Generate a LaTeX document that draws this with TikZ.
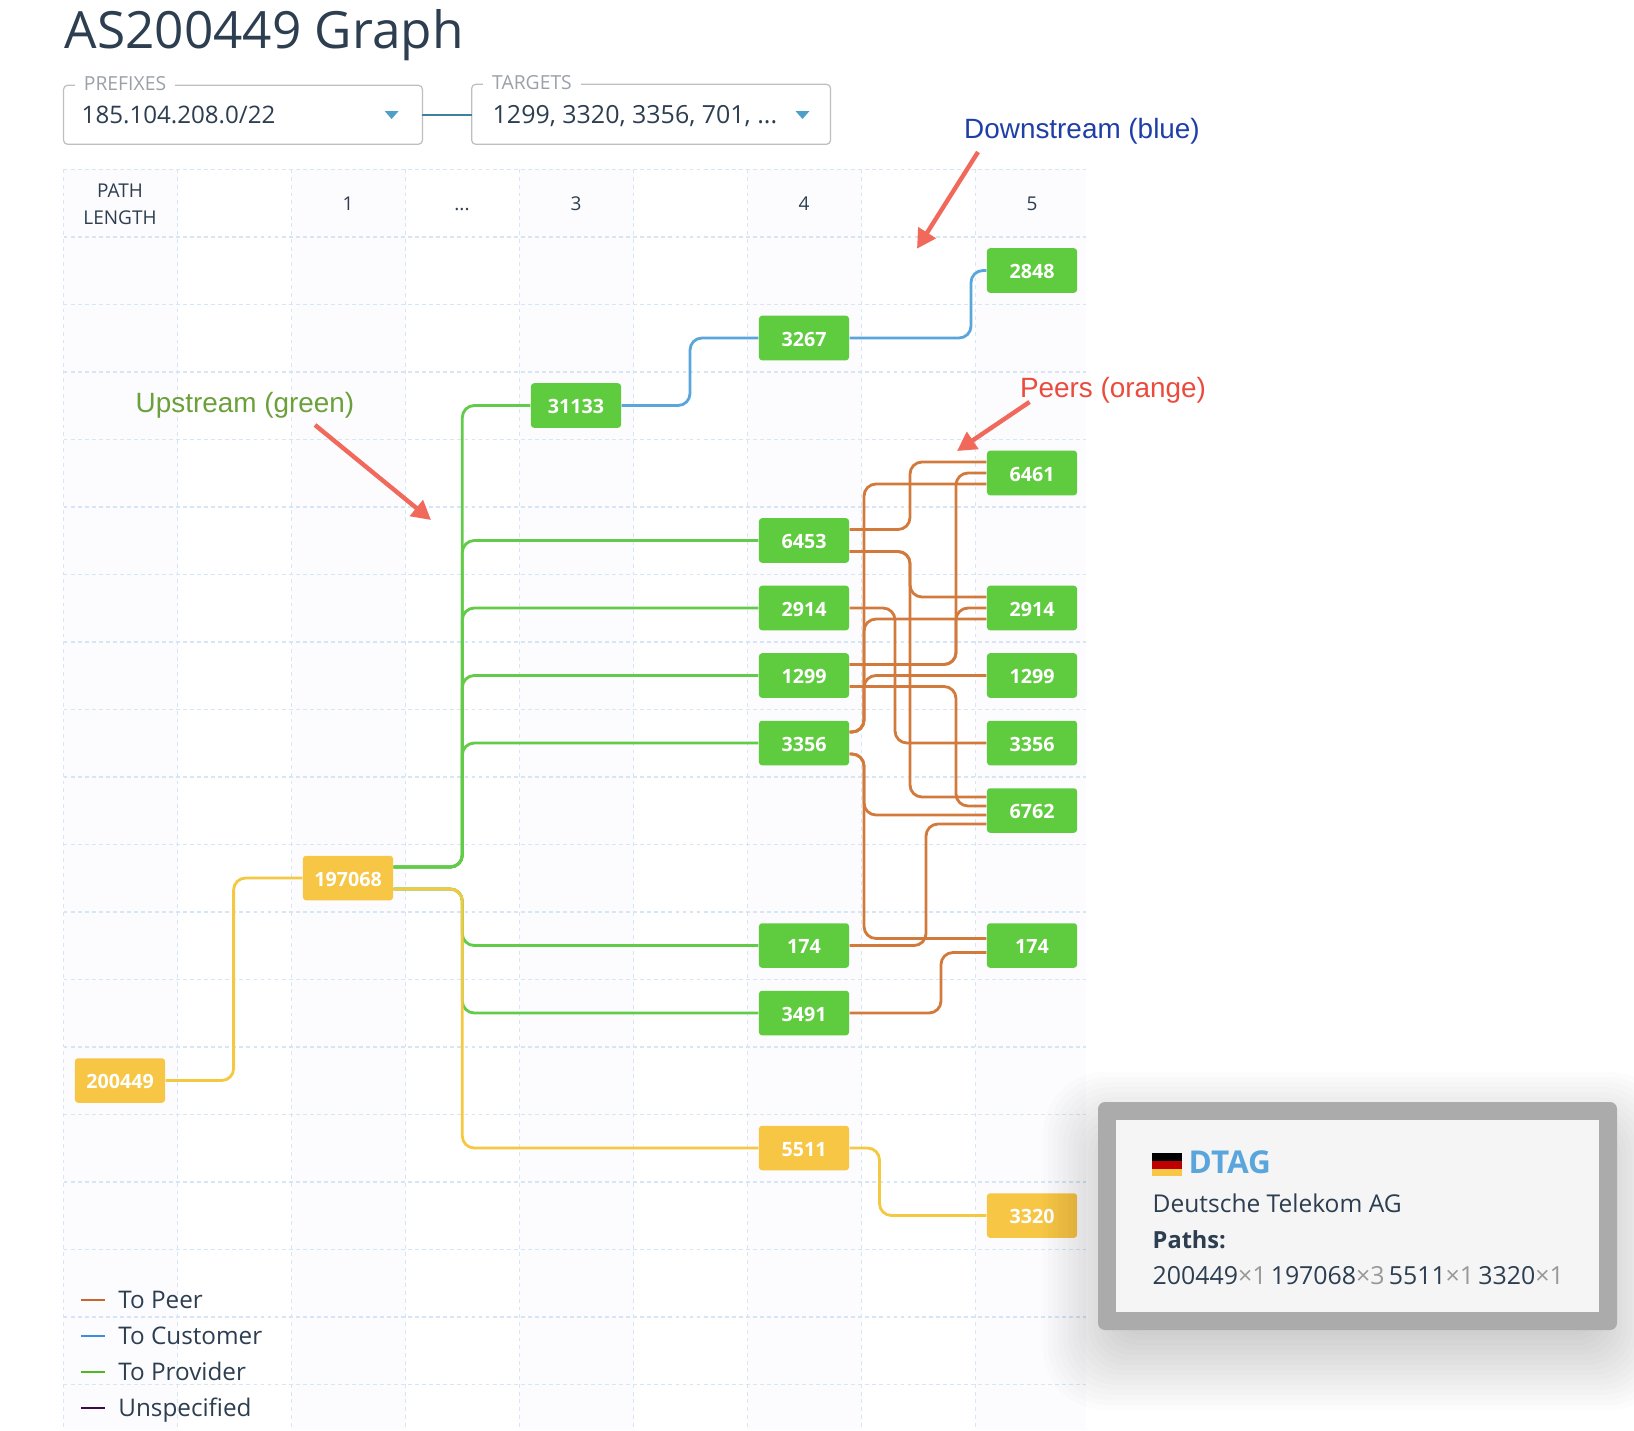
\documentclass[tikz,border=0pt]{standalone}
\usepackage{fontspec}
\setmainfont{Open Sans}
\newfontfamily\notefont{Liberation Sans}
\usetikzlibrary{calc,arrows.meta}
\definecolor{nodegreen}{HTML}{5FCB3F}
\definecolor{nodeyellow}{HTML}{F6C644}
\definecolor{linegreen}{HTML}{62CB48}
\definecolor{lineyellow}{HTML}{F5C842}
\definecolor{lineorange}{HTML}{D27A3C}
\definecolor{lineblue}{HTML}{5AA6DC}
\definecolor{inktext}{HTML}{2C3E50}
\definecolor{gridblue}{HTML}{D6E6F4}
\definecolor{coltint}{HTML}{FCFCFF}
\definecolor{salmon}{HTML}{F0695A}
\definecolor{dropblue}{HTML}{4FA0C8}
\definecolor{dropgray}{HTML}{9BA1A9}
\definecolor{notedown}{HTML}{1F3FA8}
\definecolor{noteup}{HTML}{6BA03A}
\definecolor{notepeer}{HTML}{EA4B3C}
\tikzset{
    asnode/.style={minimum width=0.9cm,minimum height=0.445cm,inner sep=0pt,rounded corners=0.03cm,text=white,text height=4.6pt,text depth=0pt,font=\fontsize{5.6}{6}\selectfont\bfseries},
    asgreen/.style={asnode,fill=nodegreen},
    asyellow/.style={asnode,fill=nodeyellow},
    route/.style={line width=0.8pt,rounded corners=0.12cm},
    peer/.style={route,lineorange},
    customer/.style={route,lineblue},
    provider/.style={route,linegreen},
    unknown/.style={route,lineyellow},
    head/.style={text=inktext,inner sep=0pt,anchor=base,font=\fontsize{5.4}{6}\selectfont},
    legend/.style={text=inktext,inner sep=0pt,anchor=base west,font=\fontsize{6.9}{8}\selectfont},
    note/.style={inner sep=0pt,font=\fontsize{7.93}{10}\selectfont\notefont},
    pointer/.style={salmon,line width=1.25pt,-{Triangle[length=0.19cm,width=0.2cm]}},
    dropbox/.style={draw=black!25,line width=0.35pt,rounded corners=0.04cm},
    droplabel/.style={fill=white,inner sep=0pt,text=dropgray,font=\fontsize{5.5}{6}\selectfont},
    dropvalue/.style={text=inktext,inner sep=0pt,anchor=base west},
    tiptext/.style={anchor=base west,inner sep=0pt,text=inktext},
}
\newcommand{\route}[6]{
    \coordinate (s) at ($(#2.east)+(0,#3)$);
    \coordinate (t) at ($(#5.west)+(0,#6)$);
    \draw[#1] (s) -- (s -| #4) -- (t -| #4) -- (t);
}
\begin{document}
\begin{tikzpicture}[x=0.01cm,y=-0.01cm]
        \useasboundingbox (0,0) rectangle (1634,1430);
        \fill[white] (0,0) rectangle (1634,1430);

        % grid
        \foreach \i in {63.6,291.6,519.6,747.6}
        \fill[coltint] (\i,169.3) rectangle ({\i+114},1430);
        \fill[coltint] (975.6,169.3) rectangle (1086,1430);
        \foreach \i in {0,...,8}
        \draw[gridblue,line width=0.3pt,dash pattern=on 1.1pt off 1.1pt] ({63.6+114*\i},169.3) -- ({63.6+114*\i},1430);
        \foreach \i in {0,...,18}
        \draw[gridblue,line width=0.42pt,dash pattern=on 1.1pt off 0.9pt] (63.6,{169.3+67.5*\i}) -- (1086,{169.3+67.5*\i});

        % title and selectors
        \node[text=inktext,inner sep=0pt,anchor=base west,font=\fontsize{14.6}{17}\selectfont] (title) at (64,48) {AS200449 Graph};
        \draw[dropbox] (63.6,85.3) rectangle (422.4,144.3);
        \draw[dropbox] (471.7,84.3) rectangle (830.5,144.3);
        \node[droplabel,minimum width=1cm] (prefixes) at (125,84) {PREFIXES};
        \node[droplabel,minimum width=0.97cm] (targets) at (532,83) {TARGETS};
        \node[dropvalue,font=\fontsize{6.86}{8}\selectfont] (prefixval) at (81,123.5) {185.104.208.0/22};
        \node[dropvalue,font=\fontsize{7.1}{8}\selectfont] (targetval) at (492,123.5) {1299, 3320, 3356, 701, ...};
        \fill[dropblue] (384.6,111) -- (398.6,111) -- (391.6,119) -- cycle;
        \fill[dropblue] (795.5,111) -- (809.5,111) -- (802.5,119) -- cycle;
        \draw[line width=0.5pt,color=dropblue!80!black] (422.4,115) -- (471.7,115);

        % column heads
        \node[head] (hpath) at (120,197) {PATH};
        \node[head] (hlength) at (120,224) {LENGTH};
        \foreach \i/\lab in {348/1,576/3,804/4,1032/5}
        \node[head] (hcol\lab) at (\i,210.5) {\lab};
        \node[head] (hdots) at (462,210.5) {...};

        % channels of the routes
        \foreach \n/\i in {chA/233.6,chB/462.3,chC/690,chD/971,chE/879.5,chF/864,chG/895,chH/910,chI/926,chJ/941,chK/956}
        \coordinate (\n) at (\i,0);

        \node[asyellow] (c0n200449) at (120,1080.5) {200449};
        \node[asyellow] (c1n197068) at (348,878) {197068};
        \node[asgreen] (c3n31133) at (576,405.5) {31133};
        \node[asgreen] (c4n3267) at (804,338) {3267};
        \foreach \n/\r in {6453/4,2914/5,1299/6,3356/7,174/10,3491/11}
        \node[asgreen] (c4n\n) at (804,{270.5+67.5*\r}) {\n};
        \node[asyellow] (c4n5511) at (804,1148) {5511};
        \foreach \n/\r in {2848/0,6461/3,2914/5,1299/6,3356/7,6762/8,174/10}
        \node[asgreen] (c5n\n) at (1032,{270.5+67.5*\r}) {\n};
        \node[asyellow] (c5n3320) at (1032,1215.5) {3320};

        % routes
        \foreach \pa/\da/\ch/\pb/\db in {c1n197068/-11/chB/c3n31133/0,c1n197068/-11/chB/c4n6453/0,c1n197068/-11/chB/c4n2914/0,c1n197068/-11/chB/c4n1299/0,c1n197068/-11/chB/c4n3356/0,c1n197068/11/chB/c4n174/0,c1n197068/11/chB/c4n3491/0}
        {\route{provider}{\pa}{\da}{\ch}{\pb}{\db}}

        \route{unknown}{c0n200449}{0}{chA}{c1n197068}{0}
        \route{unknown}{c1n197068}{11}{chB}{c4n5511}{0}
        \route{unknown}{c4n5511}{0}{chE}{c5n3320}{0}

        \route{customer}{c3n31133}{0}{chC}{c4n3267}{0}
        \route{customer}{c4n3267}{0}{chD}{c5n2848}{0}

        \foreach \pa/\da/\ch/\pb/\db in {c4n6453/-11/chH/c5n6461/-11,c4n6453/11/chH/c5n2914/-11,c4n6453/11/chH/c5n6762/-13.5,c4n2914/0/chG/c5n3356/0,c4n1299/-11/chK/c5n6461/0,c4n1299/-11/chK/c5n2914/0,c4n1299/11/chK/c5n6762/-4.5,c4n3356/-11/chF/c5n6461/11,c4n3356/-11/chF/c5n2914/11,c4n3356/-11/chF/c5n1299/0,c4n3356/11/chF/c5n6762/4.5,c4n3356/11/chF/c5n174/-7,c4n174/0/chI/c5n6762/13.5,c4n3491/0/chJ/c5n174/7}
        {\route{peer}{\pa}{\da}{\ch}{\pb}{\db}}

        % notes
        \node[note,text=notedown] (downnote) at (1082,131) {Downstream (blue)};
        \node[note,text=noteup] (upnote) at (245,405) {Upstream (green)};
        \node[note,text=notepeer] (peernote) at (1113,390) {Peers (orange)};
        \coordinate (downfrom) at (978,152);
        \coordinate (downto) at (917,248.7);
        \coordinate (upfrom) at (315,425);
        \coordinate (upto) at (431,520);
        \coordinate (peerfrom) at (1029.5,402);
        \coordinate (peerto) at (957,451);
        \draw[pointer] (downfrom) -- (downto);
        \draw[pointer] (upfrom) -- (upto);
        \draw[pointer] (peerfrom) -- (peerto);

        % legend
        \foreach \y/\col/\lab in {1300/C8662D/To Peer,1336/3C8FD8/To Customer,1372/4FB81E/To Provider,1408/3C0A4E/Unspecified}
        {
        \definecolor{keycol}{HTML}{\col}
        \draw[line width=0.5pt,keycol] (81,\y) -- (105,\y);
        \node[legend] at (117.7,{\y+8}) {\lab};
        }

        % tooltip
        \foreach \i [evaluate=\i as \rad using 1.2+0.75*\i] in {1,...,22}
        \fill[black,opacity=0.013,rounded corners=\rad pt] ({1153-5*\i},{1182-5*\i}) rectangle ({1562+5*\i},{1300+5*\i});
        \fill[black!33,rounded corners=0.07cm] (1098,1102) rectangle (1617,1330);
        \fill[black!4] (1116,1120) rectangle (1599,1312);
        \fill[black] (1152,1153) rectangle (1182,1161);
        \fill[red!75!black] (1152,1161) rectangle (1182,1168.5);
        \fill[nodeyellow] (1152,1168.5) rectangle (1182,1176);
        \node[tiptext,text=lineblue,font=\fontsize{8.95}{10}\selectfont\bfseries] (tipname) at (1188,1173) {DTAG};
        \node[tiptext,font=\fontsize{6.98}{8}\selectfont] (tiporg) at (1152,1212) {Deutsche Telekom AG};
        \node[tiptext,font=\fontsize{6.7}{8}\selectfont\bfseries] (tippaths) at (1152,1248) {Paths:};
        \node[tiptext,font=\fontsize{7.08}{8}\selectfont] (tipline) at (1152,1284) {200449\textcolor{black!40}{×1}\,197068\textcolor{black!40}{×3}\,5511\textcolor{black!40}{×1}\,3320\textcolor{black!40}{×1}};

    \end{tikzpicture}
\end{document}
